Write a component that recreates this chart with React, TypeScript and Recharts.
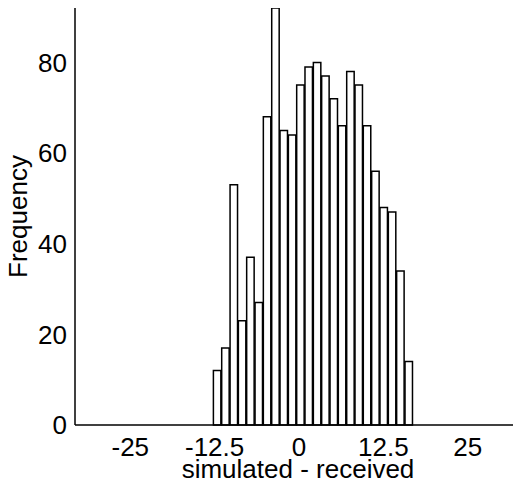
import React from "react";
import { BarChart, Bar, XAxis, YAxis } from "recharts";

const binCenters = [
  -12.07, -10.84, -9.6, -8.37, -7.14, -5.9, -4.67, -3.43, -2.2, -0.96, 0.27, 1.5,
  2.74, 3.97, 5.21, 6.44, 7.68, 8.91, 10.14, 11.38, 12.61, 13.85, 15.08, 16.32,
];
const counts = [
  12, 17, 53, 23, 37, 27, 68, 92, 65, 64, 75, 79,
  80, 77, 72, 66, 78, 75, 66, 56, 48, 47, 34, 14,
];
const xTicks = [-25, -12.5, 0, 12.5, 25];
const yTicks = [0, 20, 40, 60, 80];

const data = binCenters.map((x, i) => ({ x, count: counts[i] }));

const FONT = '"Liberation Sans", Arial, Helvetica, sans-serif';

export default function App() {
  return (
    <BarChart
      width={513}
      height={477}
      data={data}
      margin={{ top: 0, right: 0, bottom: 0, left: 0 }}
      style={{ fontFamily: FONT }}
    >
      <XAxis
        dataKey="x"
        type="number"
        domain={[-33.19, 32.89]}
        allowDataOverflow
        ticks={xTicks}
        tickFormatter={(v: number) => String(v)}
        tickLine={false}
        tickSize={0}
        tickMargin={13}
        height={60}
        axisLine={{ stroke: "#000", strokeWidth: 1.5 }}
        tick={{ fill: "#000", fontSize: 26, fontFamily: FONT }}
        interval={0}
        label={{
          value: "simulated - received",
          position: "insideBottom",
          offset: 7,
          fill: "#000",
          fontSize: 26,
          fontFamily: FONT,
        }}
      />
      <YAxis
        type="number"
        domain={[0, 92]}
        ticks={yTicks}
        tickLine={false}
        tickSize={0}
        tickMargin={8}
        width={67}
        axisLine={{ stroke: "#000", strokeWidth: 1.5 }}
        tick={{ fill: "#000", fontSize: 26, fontFamily: FONT }}
        interval={0}
        label={{
          value: "Frequency",
          angle: -90,
          position: "insideLeft",
          offset: 10,
          fill: "#000",
          fontSize: 26,
          fontFamily: FONT,
          style: { textAnchor: "middle" },
        }}
      />
      <Bar
        dataKey="count"
        fill="#fff"
        stroke="#000"
        strokeWidth={1.5}
        barSize={8.33}
        isAnimationActive={false}
      />
    </BarChart>
  );
}
